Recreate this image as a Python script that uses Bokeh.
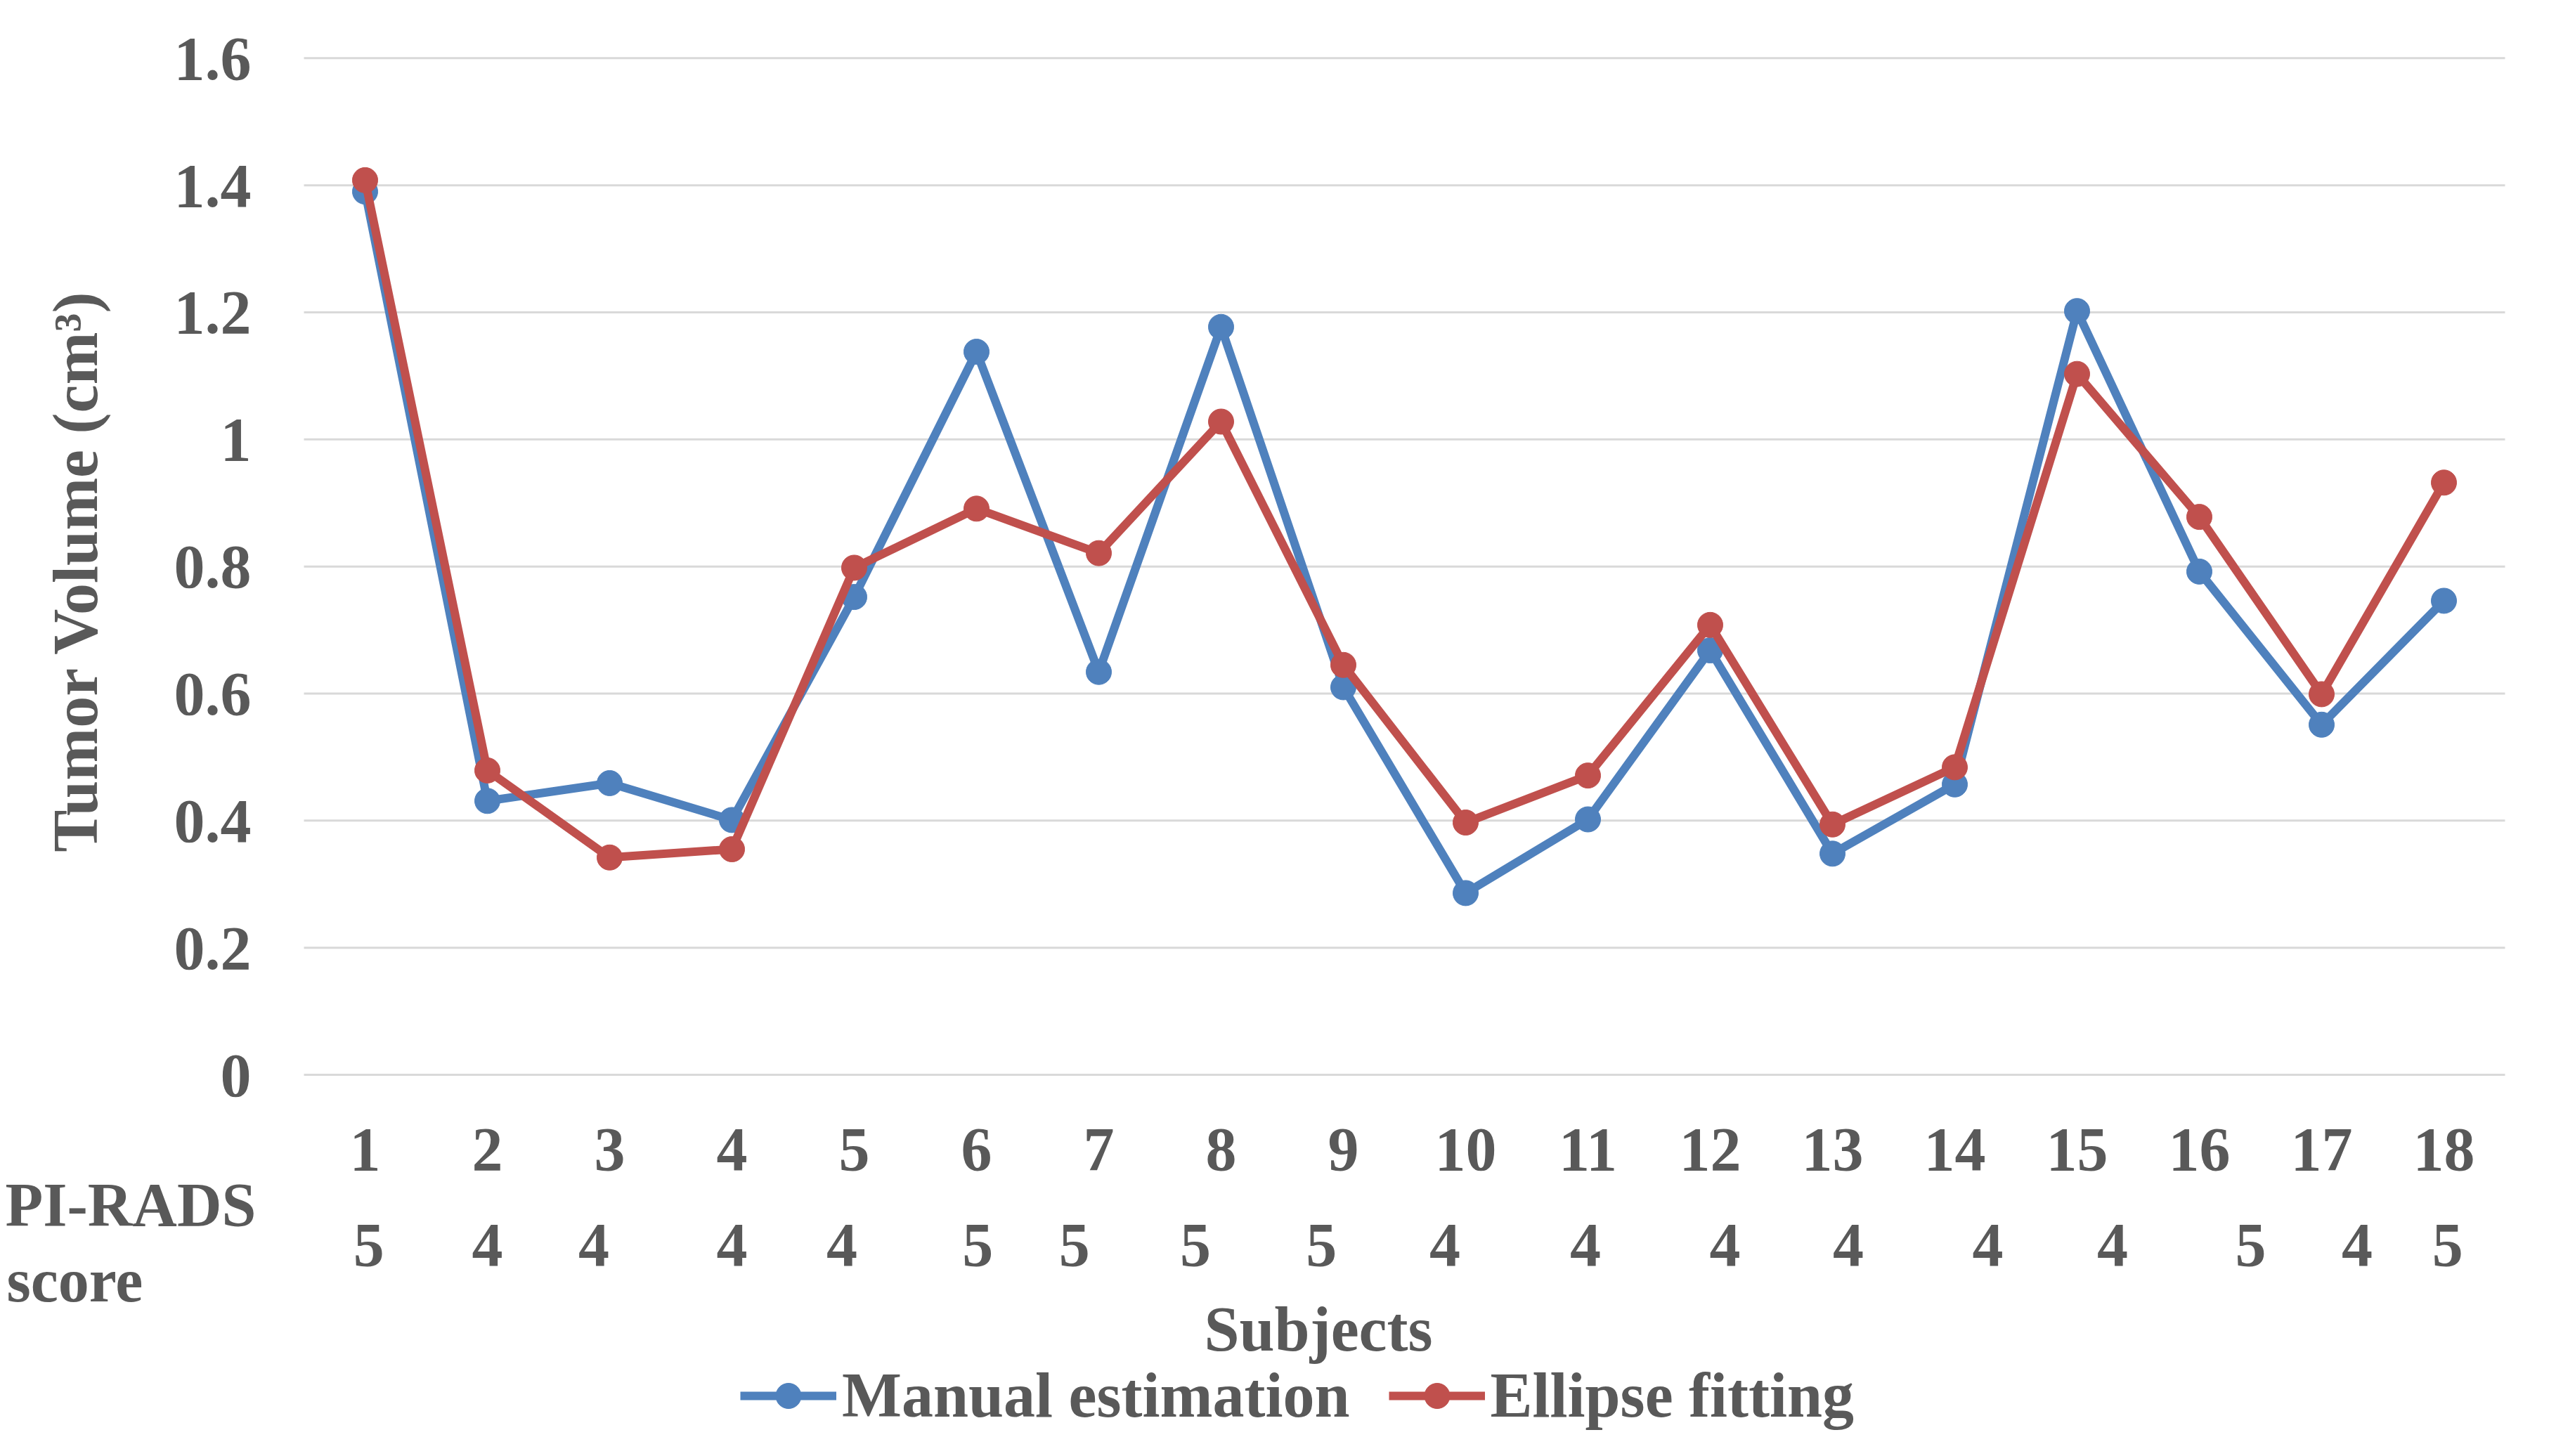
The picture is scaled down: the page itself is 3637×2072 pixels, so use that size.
import math
from bokeh.plotting import figure
from bokeh.models import Range1d, Legend, LegendItem, ColumnDataSource
from bokeh.core.properties import value
from bokeh.embed import file_html
from bokeh.resources import INLINE

# ---- data ----
subjects = list(range(1, 19))
pirads = [5, 4, 4, 4, 4, 5, 5, 5, 5, 4, 4, 4, 4, 4, 4, 5, 4, 5]
manual = [1.390, 0.431, 0.459, 0.401, 0.752, 1.138, 0.634, 1.177, 0.610,
          0.286, 0.402, 0.668, 0.348, 0.457, 1.202, 0.792, 0.551, 0.746]
ellipse = [1.408, 0.479, 0.342, 0.355, 0.798, 0.891, 0.821, 1.028, 0.645,
           0.397, 0.471, 0.708, 0.394, 0.484, 1.103, 0.878, 0.599, 0.932]
y_ticks = [0, 0.2, 0.4, 0.6, 0.8, 1.0, 1.2, 1.4, 1.6]
y_tick_labels = ["0", "0.2", "0.4", "0.6", "0.8", "1", "1.2", "1.4", "1.6"]
subject_labels = [str(s) for s in subjects]
pirads_labels = [str(v) for v in pirads]

# ---- layout / style (canvas pixels) ----
pirads_dx = [0.03, 0.0, -0.13, 0.0, -0.10, 0.01, -0.20, -0.21, -0.18,
             -0.17, -0.02, 0.12, 0.13, 0.27, 0.29, 0.42, 0.29, 0.03]
W, H = 3621, 2056
FL, FR, FT, FB = 432.0, 3564.0, 82.3, 1529.0   # plot area inside the canvas
SX = (FR - FL) / 18.0
SY = (FB - FT) / 1.6
BFIX = 30  # baseline correction of the text renderer


def dx(px):
    return 0.5 + (px - FL) / SX


def dy(py):
    return (FB - py) / SY


BLUE = "#4F81BD"
RED = "#C0504D"
GRID = "#D9D9D9"
TXT = "#595959"
FONT = value("Liberation Serif")

p = figure(width=W, height=H,
           x_range=Range1d(dx(0), dx(W)), y_range=Range1d(dy(H), dy(0)),
           output_backend="svg", toolbar_location=None, min_border=0)
p.outline_line_color = None
p.xaxis.visible = False
p.yaxis.visible = False
p.grid.visible = False

# horizontal gridlines across the category band
p.segment(x0=[0.5] * len(y_ticks), x1=[18.5] * len(y_ticks), y0=y_ticks, y1=y_ticks,
          line_color=GRID, line_width=3)


def txt(size):
    return dict(text_font=FONT, text_font_style="bold", text_color=TXT,
                text_font_size=size, text_baseline="alphabetic")


# y tick labels
p.text(x=[dx(357)] * len(y_ticks), y=y_ticks, text=y_tick_labels,
       text_align="right", y_offset=31 - BFIX, **txt("88px"))
# y axis title
p.text(x=[dx(137 - BFIX)], y=[dy(812)], text=["Tumor Volume (cm\u00b3)"],
       angle=math.pi / 2, text_align="center", **txt("90px"))
# x labels: subjects and PI-RADS scores
p.text(x=subjects, y=[dy(1665 - BFIX)] * len(subjects), text=subject_labels,
       text_align="center", **txt("88px"))
pos2 = [s + d for s, d in zip(subjects, pirads_dx)]
p.text(x=pos2, y=[dy(1801 - BFIX)] * len(pos2), text=pirads_labels,
       text_align="center", **txt("88px"))
p.text(x=[dx(7), dx(9)], y=[dy(1744 - BFIX), dy(1852 - BFIX)], text=["PI-RADS", "score"],
       text_align="left", **txt("88px"))
p.text(x=[dx(1713)], y=[dy(1921 - BFIX)], text=["Subjects"], text_align="left",
       **txt("90px"))

# series
src = ColumnDataSource(dict(x=subjects, manual=manual, ellipse=ellipse))
bl = p.line("x", "manual", source=src, line_color=BLUE, line_width=12, line_join="round")
bs = p.scatter("x", "manual", source=src, size=36, fill_color=BLUE, line_color=BLUE)
rl = p.line("x", "ellipse", source=src, line_color=RED, line_width=12, line_join="round")
rs = p.scatter("x", "ellipse", source=src, size=36, fill_color=RED, line_color=RED)

legend = Legend(items=[LegendItem(label="Manual estimation", renderers=[bl, bs]),
                       LegendItem(label="Ellipse fitting", renderers=[rl, rs])],
                orientation="horizontal", location=(1053, 19),
                glyph_width=137, glyph_height=90, label_standoff=8, spacing=55,
                padding=0, margin=0, border_line_color=None,
                background_fill_alpha=0,
                label_text_font="Liberation Serif", label_text_font_style="bold",
                label_text_font_size="90px", label_text_color=TXT)
p.add_layout(legend)

open("out.html", "w").write(file_html(p, INLINE))
